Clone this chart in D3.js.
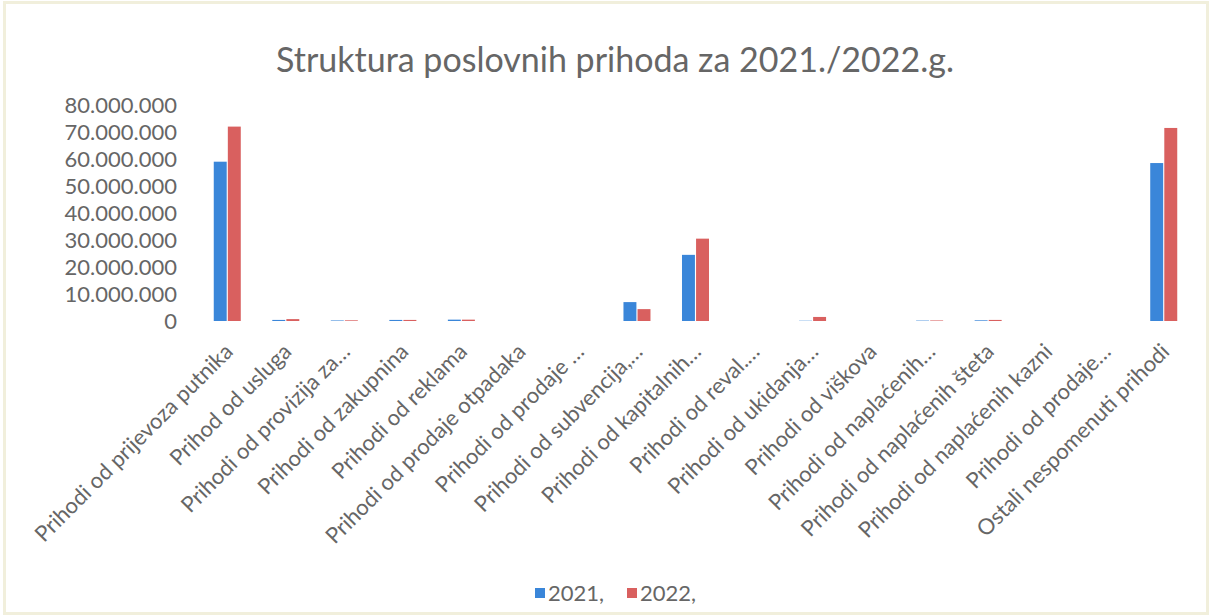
<!DOCTYPE html>
<html>
<head>
<meta charset="utf-8">
<script src="https://cdn.jsdelivr.net/npm/d3@7"></script>
<style>
  html, body { margin: 0; padding: 0; background: #fff; }
  svg { display: block; }
</style>
</head>
<body>
<div id="chart"></div>
<script>
const categories = [
  "Prihodi od prijevoza putnika",
  "Prihod od usluga",
  "Prihodi od provizija za…",
  "Prihodi od zakupnina",
  "Prihodi od reklama",
  "Prihodi od prodaje otpadaka",
  "Prihodi od prodaje …",
  "Prihodi od subvencija,…",
  "Prihodi od kapitalnih…",
  "Prihodi od reval.…",
  "Prihodi od ukidanja…",
  "Prihodi od viškova",
  "Prihodi od naplaćenih…",
  "Prihodi od naplaćenih šteta",
  "Prihodi od naplaćenih kazni",
  "Prihodi od prodaje…",
  "Ostali nespomenuti prihodi"
];

const seriesNames = ["2021,", "2022,"];

const values2021 = [59000000, 400000, 200000, 400000, 500000, 0, 0, 7000000, 24500000, 0, 100000, 0, 150000, 250000, 0, 0, 58500000];
const values2022 = [72000000, 700000, 250000, 400000, 500000, 0, 0, 4400000, 30500000, 0, 1500000, 0, 200000, 400000, 0, 0, 71500000];

const yTicks = [0, 10000000, 20000000, 30000000, 40000000, 50000000, 60000000, 70000000, 80000000];

const colors = { "2021,": "#3a86d9", "2022,": "#d9605f" };

const width = 1212;
const height = 616;
const textColor = "#666666";
const fontFamily = "Lato, 'Open Sans', sans-serif";

const locale = d3.formatLocale({ decimal: ",", thousands: ".", grouping: [3], currency: ["", ""] });
const fmt = locale.format(",.0f");

const data = categories.map((c, i) => ({
  cat: c,
  vals: [
    { key: seriesNames[0], v: values2021[i] },
    { key: seriesNames[1], v: values2022[i] }
  ]
}));

const svg = d3.select("#chart")
  .append("svg")
  .attr("width", width)
  .attr("height", height)
  .style("font-family", fontFamily);

// faint border from the scanned page
svg.append("rect")
  .attr("x", 4.5).attr("y", 2.5)
  .attr("width", width - 9).attr("height", height - 5)
  .attr("fill", "#fff")
  .attr("stroke", "#f1efdc")
  .attr("stroke-width", 3);

// plot area
const plotLeft = 198, plotRight = 1193, plotTop = 105, plotBottom = 321;

const x = d3.scaleBand()
  .domain(categories)
  .range([plotLeft, plotRight])
  .paddingInner(0.5)
  .paddingOuter(0.25);

const xs = d3.scaleBand()
  .domain(seriesNames)
  .range([0, x.bandwidth()])
  .padding(0.08);

const y = d3.scaleLinear()
  .domain([0, 80000000])
  .range([plotBottom, plotTop]);

// title
svg.append("text")
  .attr("x", 615)
  .attr("y", 72)
  .attr("text-anchor", "middle")
  .attr("fill", textColor)
  .style("font-size", "34px")
  .text("Struktura poslovnih prihoda za 2021./2022.g.");

// Y axis
const yAxis = svg.append("g")
  .attr("transform", `translate(${plotLeft - 12},0)`)
  .call(d3.axisLeft(y).tickValues(yTicks).tickFormat(fmt).tickSize(0).tickPadding(9))
  .attr("font-family", fontFamily);
yAxis.select(".domain").remove();
yAxis.selectAll("text")
  .attr("fill", textColor)
  .style("font-size", "22px");

// X axis labels
const xAxis = svg.append("g")
  .attr("transform", `translate(0,${plotBottom})`)
  .call(d3.axisBottom(x).tickSize(0))
  .attr("font-family", fontFamily);
xAxis.select(".domain").remove();
xAxis.selectAll("text")
  .attr("fill", textColor)
  .style("font-size", "22px")
  .attr("text-anchor", "end")
  .attr("y", 0)
  .attr("dy", 0)
  .attr("transform", "translate(7,32) rotate(-45)");

// bars
const groups = svg.append("g")
  .selectAll("g")
  .data(data)
  .enter()
  .append("g")
  .attr("transform", d => `translate(${x(d.cat)},0)`);

groups.selectAll("rect")
  .data(d => d.vals)
  .enter()
  .append("rect")
  .attr("x", d => xs(d.key))
  .attr("y", d => y(d.v))
  .attr("width", xs.bandwidth())
  .attr("height", d => y(0) - y(d.v))
  .attr("fill", d => colors[d.key]);

// legend
const legend = svg.append("g")
  .attr("transform", "translate(535,593)");

const item = legend.selectAll("g")
  .data(seriesNames)
  .enter()
  .append("g")
  .attr("transform", (d, i) => `translate(${i * 92},0)`);

item.append("rect")
  .attr("x", 0).attr("y", -5)
  .attr("width", 10).attr("height", 10)
  .attr("fill", d => colors[d]);

item.append("text")
  .attr("x", 13)
  .attr("y", 0)
  .attr("dy", "0.35em")
  .attr("fill", textColor)
  .style("font-size", "22px")
  .text(d => d);
</script>
</body>
</html>
